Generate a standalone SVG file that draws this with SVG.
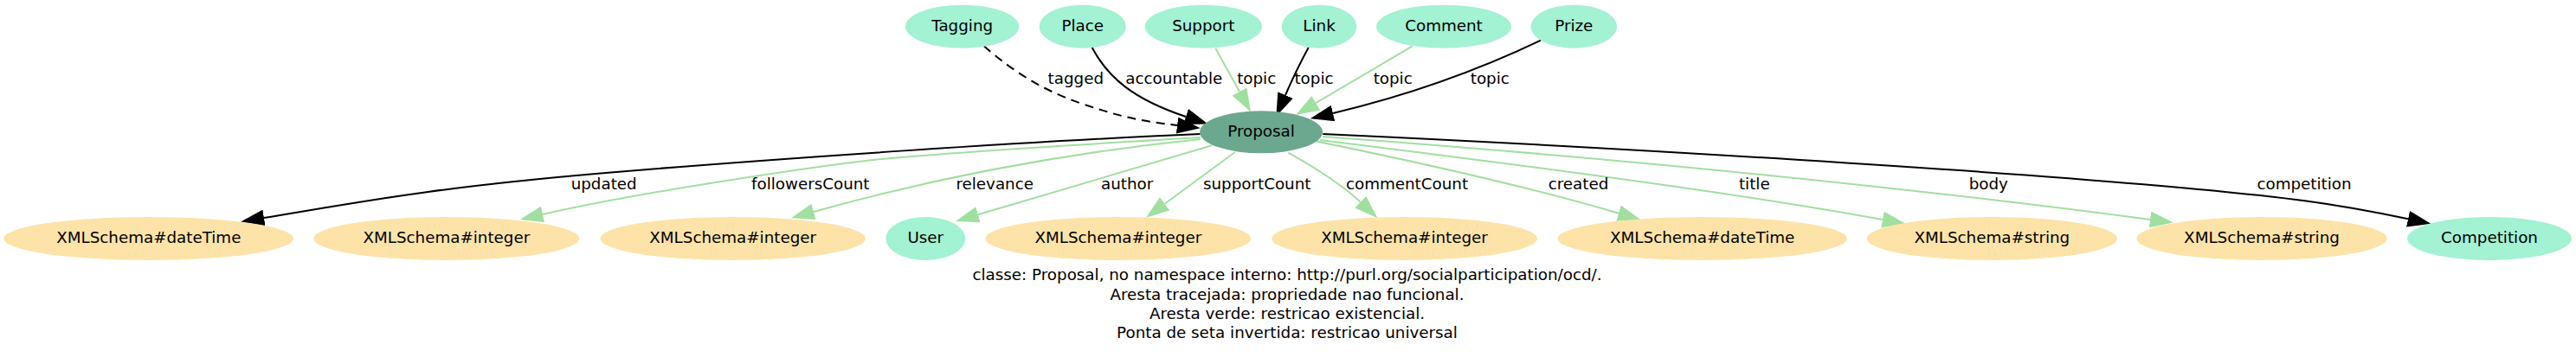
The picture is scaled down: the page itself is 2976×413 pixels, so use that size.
<svg xmlns="http://www.w3.org/2000/svg" width="2976" height="413" viewBox="0 0 2976 413">
<style>
text{font-family:"DejaVu Sans","Liberation Sans",sans-serif;font-size:18.3px;fill:#000}
.n text{text-anchor:middle}
.cls{fill:#a2f2d3}
.main{fill:#6ca890}
.lit{fill:#fde3a8}
.e{fill:none;stroke-width:2}
.k{stroke:#000;marker-end:url(#ak)}
.g{stroke:#a0dfa0;marker-end:url(#ag)}
.d{stroke-dasharray:10,7}
.lbl text{text-anchor:middle}
.legend text{text-anchor:middle}
</style>
<defs>
<marker id="ak" viewBox="0 0 27 19" markerWidth="27" markerHeight="19" refX="0" refY="9.5" markerUnits="userSpaceOnUse" orient="auto"><path d="M0,0 L27,9.5 L0,19 z" fill="#000"/></marker>
<marker id="ag" viewBox="0 0 27 19" markerWidth="27" markerHeight="19" refX="0" refY="9.5" markerUnits="userSpaceOnUse" orient="auto"><path d="M0,0 L27,9.5 L0,19 z" fill="#a0dfa0"/></marker>
</defs>
<rect width="2976" height="413" fill="#fff"/>
<g id="connectors">
<path class="e k d" d="M1136.7,53.3 C1165,78 1200,103 1250,120 S1320,140 1360,145"/>
<path class="e k" d="M1261.7,55 C1280,90 1310,115 1370,135"/>
<path class="e g" d="M1404.3,56 L1432,106"/>
<path class="e k" d="M1511.7,55 Q1498,80 1485,110"/>
<path class="e g" d="M1631.7,53.3 L1520.2,119.2"/>
<path class="e k" d="M1780,46.7 C1700,85 1620,112 1540,131"/>
<path class="e k" d="M1386.7,155 C1200,163 900,183 700,200 S420,233 305,252"/>
<path class="e g" d="M1386.7,159 C1200,170 1050,180 1000,186 S750,220 627,248"/>
<path class="e g" d="M1387,161 C1250,175 1100,200 940,245"/>
<path class="e g" d="M1400,168.3 L1130,248.3"/>
<path class="e g" d="M1426.7,176 L1345.7,235.7"/>
<path class="e g" d="M1488.3,176.7 C1530,200 1555,218 1571.7,233.7"/>
<path class="e g" d="M1520,163.3 C1650,190 1780,220 1870,246.7"/>
<path class="e g" d="M1525,162 C1750,190 2000,222 2175,254"/>
<path class="e g" d="M1528,158 C1800,178 2150,210 2484,254"/>
<path class="e k" d="M1528.3,155 C1900,172 2300,198 2476,213.3 S2700,236 2782,253.3"/>
<g class="lbl">
<text x="1242.8" y="97">tagged</text>
<text x="1356.3" y="97">accountable</text>
<text x="1451.7" y="97">topic</text>
<text x="1518" y="97">topic</text>
<text x="1609.2" y="97">topic</text>
<text x="1721.3" y="97">topic</text>
<text x="697.7" y="219">updated</text>
<text x="936.3" y="219">followersCount</text>
<text x="1149.2" y="219">relevance</text>
<text x="1302.2" y="219">author</text>
<text x="1452.2" y="219">supportCount</text>
<text x="1625.5" y="219">commentCount</text>
<text x="1823.5" y="219">created</text>
<text x="2026.8" y="219">title</text>
<text x="2297.3" y="219">body</text>
<text x="2662" y="219">competition</text>
</g>
</g>
<g id="Tagging" class="n"><ellipse class="cls" cx="1111.7" cy="30.7" rx="65.7" ry="25"/><text x="1111.7" y="35.7">Tagging</text></g>
<g id="Place" class="n"><ellipse class="cls" cx="1250.7" cy="30.7" rx="50" ry="25"/><text x="1250.7" y="35.7">Place</text></g>
<g id="Support" class="n"><ellipse class="cls" cx="1390.3" cy="30.7" rx="67.7" ry="25"/><text x="1390.3" y="35.7">Support</text></g>
<g id="Link" class="n"><ellipse class="cls" cx="1524" cy="30.7" rx="43.3" ry="25"/><text x="1524" y="35.7">Link</text></g>
<g id="Comment" class="n"><ellipse class="cls" cx="1668" cy="30.7" rx="78" ry="25"/><text x="1668" y="35.7">Comment</text></g>
<g id="Prize" class="n"><ellipse class="cls" cx="1818.3" cy="30.7" rx="49.7" ry="25"/><text x="1818.3" y="35.7">Prize</text></g>
<g id="Proposal" class="n"><ellipse class="main" cx="1457" cy="152.8" rx="71" ry="24.5"/><text x="1457" y="157.8">Proposal</text></g>
<g id="dateTime1" class="n"><ellipse class="lit" cx="171.8" cy="276" rx="167.5" ry="25"/><text x="171.8" y="281">XMLSchema#dateTime</text></g>
<g id="integer2" class="n"><ellipse class="lit" cx="515.8" cy="276" rx="153.5" ry="25"/><text x="515.8" y="281">XMLSchema#integer</text></g>
<g id="integer3" class="n"><ellipse class="lit" cx="846.7" cy="276" rx="153.3" ry="25"/><text x="846.7" y="281">XMLSchema#integer</text></g>
<g id="User" class="n"><ellipse class="cls" cx="1069.3" cy="276" rx="46" ry="25"/><text x="1069.3" y="281">User</text></g>
<g id="integer4" class="n"><ellipse class="lit" cx="1291.8" cy="276" rx="153.5" ry="25"/><text x="1291.8" y="281">XMLSchema#integer</text></g>
<g id="integer5" class="n"><ellipse class="lit" cx="1622.5" cy="276" rx="153.5" ry="25"/><text x="1622.5" y="281">XMLSchema#integer</text></g>
<g id="dateTime6" class="n"><ellipse class="lit" cx="1966.7" cy="276" rx="167.3" ry="25"/><text x="1966.7" y="281">XMLSchema#dateTime</text></g>
<g id="string7" class="n"><ellipse class="lit" cx="2301.3" cy="276" rx="144.7" ry="25"/><text x="2301.3" y="281">XMLSchema#string</text></g>
<g id="string8" class="n"><ellipse class="lit" cx="2613" cy="276" rx="144.8" ry="25"/><text x="2613" y="281">XMLSchema#string</text></g>
<g id="Competition" class="n"><ellipse class="cls" cx="2876" cy="276" rx="95" ry="25"/><text x="2876" y="281">Competition</text></g>
<g id="legend" class="legend">
<text x="1487" y="324">classe: Proposal, no namespace interno: http://purl.org/socialparticipation/ocd/.</text>
<text x="1487" y="346.5">Aresta tracejada: propriedade nao funcional.</text>
<text x="1487" y="369">Aresta verde: restricao existencial.</text>
<text x="1487" y="391">Ponta de seta invertida: restricao universal</text>
</g>
</svg>
